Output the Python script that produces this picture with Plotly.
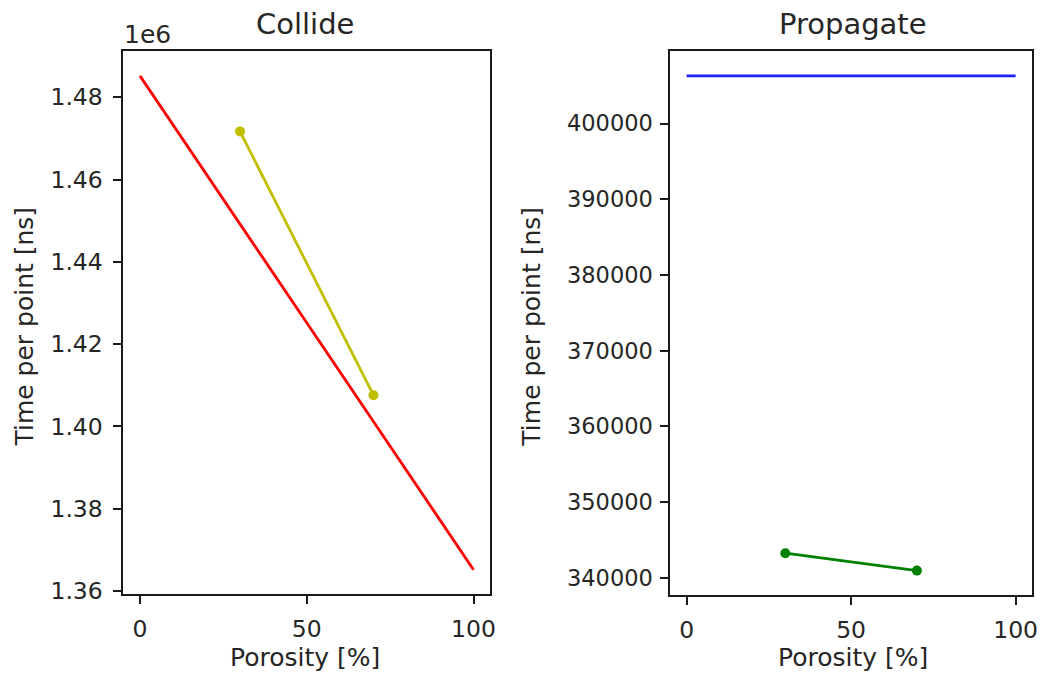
import plotly.graph_objects as go

# Collide kernel timings (ns per lattice point)
collide_ref_x = [0, 100]
collide_ref_y = [1485200, 1365200]
collide_x = [30, 70]
collide_y = [1471700, 1407600]

# Propagate kernel timings (ns per lattice point)
propagate_ref_x = [0, 100]
propagate_ref_y = [406300, 406300]
propagate_x = [30, 70]
propagate_y = [343250, 340950]

x_ticks = [0, 50, 100]
collide_ticks = [1.36e6, 1.38e6, 1.40e6, 1.42e6, 1.44e6, 1.46e6, 1.48e6]
collide_tick_text = ["1.36", "1.38", "1.40", "1.42", "1.44", "1.46", "1.48"]
propagate_ticks = [340000, 350000, 360000, 370000, 380000, 390000, 400000]
propagate_tick_text = ["340000", "350000", "360000", "370000", "380000", "390000", "400000"]

W, H = 1051, 689
FONT = "DejaVu Sans"
TXT = "#262626"


def padded(values, frac=0.05):
    lo, hi = min(values), max(values)
    span = hi - lo
    return [lo - frac * span, hi + frac * span]


def px_x(p):
    return p / W


def px_y(p):
    return 1 - p / H


fig = go.Figure()

fig.add_trace(go.Scatter(x=collide_ref_x, y=collide_ref_y, mode="lines",
                         line=dict(color="#ff0000", width=2.8), xaxis="x", yaxis="y"))
fig.add_trace(go.Scatter(x=collide_x, y=collide_y, mode="lines+markers",
                         line=dict(color="#bfbf00", width=2.8),
                         marker=dict(color="#bfbf00", size=10), xaxis="x", yaxis="y"))
fig.add_trace(go.Scatter(x=propagate_ref_x, y=propagate_ref_y, mode="lines",
                         line=dict(color="#2020ff", width=2.8), xaxis="x2", yaxis="y2"))
fig.add_trace(go.Scatter(x=propagate_x, y=propagate_y, mode="lines+markers",
                         line=dict(color="#008000", width=2.8),
                         marker=dict(color="#008000", size=10), xaxis="x2", yaxis="y2"))

axis_common = dict(showgrid=False, zeroline=False, showline=True, mirror=True,
                   linecolor="#1a1a1a", linewidth=1.6, ticks="outside", ticklen=8,
                   tickwidth=1.6, tickcolor="#1a1a1a")

tick_font_left = dict(family=FONT, size=23.5, color=TXT)
tick_font_right = dict(family=FONT, size=22.5, color=TXT)

fig.update_layout(
    width=W, height=H, margin=dict(l=0, r=0, t=0, b=0),
    paper_bgcolor="white", plot_bgcolor="white", showlegend=False,
    xaxis=dict(domain=[px_x(124), px_x(493)], anchor="y",
               range=padded(collide_ref_x + collide_x), tickvals=x_ticks,
               ticklabelstandoff=5, tickfont=tick_font_left, **axis_common),
    yaxis=dict(domain=[px_y(604), px_y(52)], anchor="x",
               range=padded(collide_ref_y + collide_y), tickvals=collide_ticks,
               ticktext=collide_tick_text, ticklabelstandoff=6,
               tickfont=tick_font_left, **axis_common),
    xaxis2=dict(domain=[px_x(674), px_x(1038)], anchor="y2",
                range=padded(propagate_ref_x + propagate_x), tickvals=x_ticks,
                ticklabelstandoff=5, tickfont=tick_font_left, **axis_common),
    yaxis2=dict(domain=[px_y(605), px_y(52)], anchor="x2",
                range=padded(propagate_ref_y + propagate_y), tickvals=propagate_ticks,
                ticktext=propagate_tick_text, ticklabelstandoff=3,
                tickfont=tick_font_right, **axis_common),
)

text_font = dict(family=FONT, size=25, color=TXT)
title_font = dict(family=FONT, size=29, color=TXT)

annotations = [
    # panel titles
    dict(text="Collide", x=px_x(307), y=px_y(24), font=title_font),
    dict(text="Propagate", x=px_x(858), y=px_y(24), font=title_font),
    # x-axis titles
    dict(text="Porosity [%]", x=px_x(307), y=px_y(668), font=text_font),
    dict(text="Porosity [%]", x=px_x(858), y=px_y(668), font=text_font),
    # y-axis titles
    dict(text="Time per point [ns]", x=px_x(25), y=px_y(332), textangle=-90, font=text_font),
    dict(text="Time per point [ns]", x=px_x(535), y=px_y(332), textangle=-90, font=text_font),
    # scale factor of the left y axis
    dict(text="1e6", x=px_x(123), y=px_y(35), xanchor="left", font=text_font),
]
for a in annotations:
    a.setdefault("xanchor", "center")
    fig.add_annotation(xref="paper", yref="paper", showarrow=False, yanchor="middle", **a)

fig.write_html("out.html")
